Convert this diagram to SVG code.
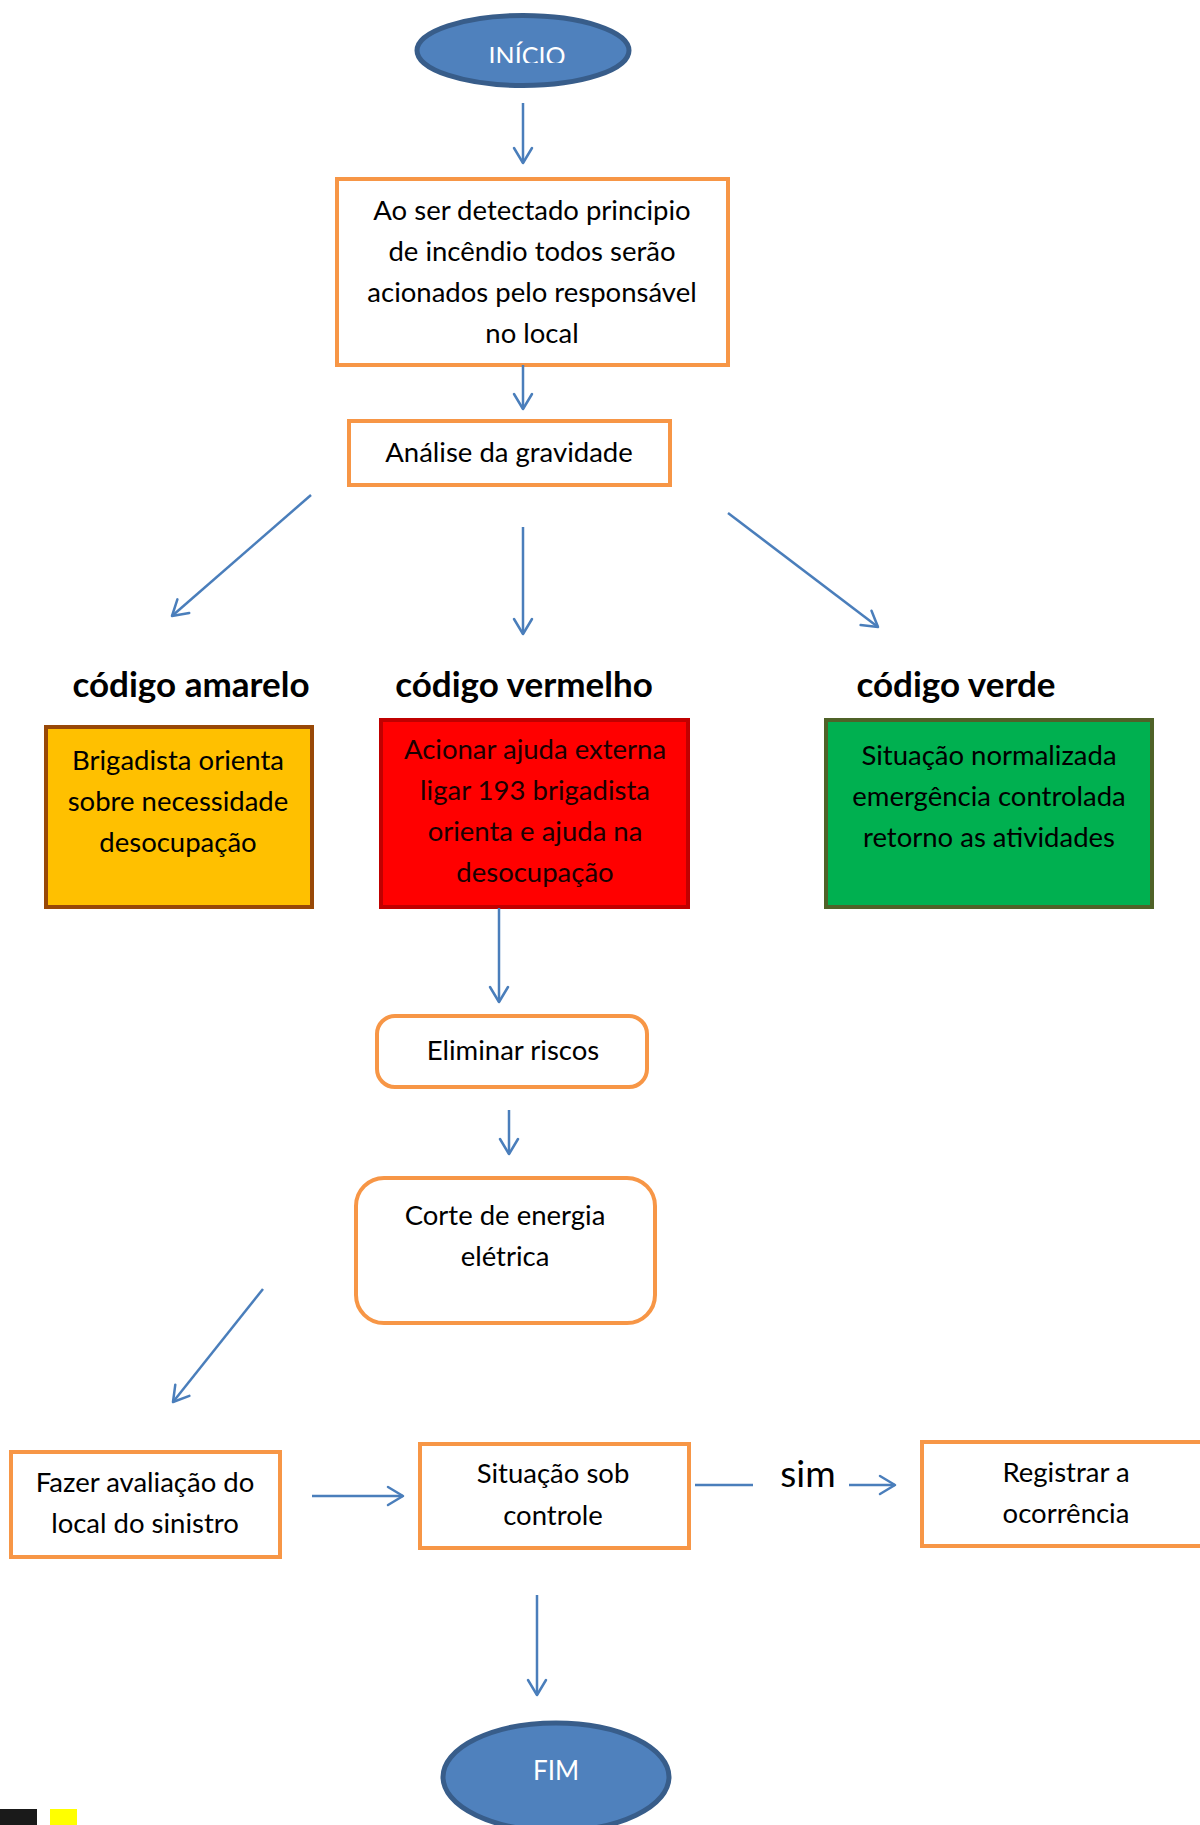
<svg xmlns="http://www.w3.org/2000/svg" width="1200" height="1825" viewBox="0 0 1200 1825">
<defs>
<style>
.t{font-family:Lato,"Open Sans","Liberation Sans",sans-serif;font-size:27.5px;fill:#000;text-anchor:middle}
.h{font-family:Lato,"Open Sans","Liberation Sans",sans-serif;font-size:35px;font-weight:bold;fill:#000;text-anchor:middle}
.w{font-family:Lato,"Open Sans","Liberation Sans",sans-serif;font-size:25px;fill:#fff;text-anchor:middle}
.ob{fill:#fff;stroke:#F79646;stroke-width:4}
.term{fill:#4F81BD;stroke:#385D8A;stroke-width:5}
.c{stroke:#4A7EBB;stroke-width:2.5;fill:none}
.a{marker-end:url(#arr)}
</style>
<marker id="arr" viewBox="0 0 20 22" markerWidth="20" markerHeight="22" refX="17" refY="11" orient="auto" markerUnits="userSpaceOnUse">
<path d="M2,2 L17,11 L2,20" fill="none" stroke="#4A7EBB" stroke-width="2.5" stroke-linecap="round" stroke-linejoin="round"/>
</marker>
<clipPath id="clipInicio"><rect x="400" y="0" width="260" height="63"/></clipPath>
</defs>

<g id="inicio">
<ellipse class="term" cx="523" cy="50.5" rx="106" ry="35"/>
<text class="w" x="527" y="65" clip-path="url(#clipInicio)">INÍCIO</text>
</g>

<g id="detectado">
<rect class="ob" x="337" y="179" width="391" height="186"/>
<text class="t" x="532" y="220">Ao ser detectado principio</text>
<text class="t" x="532" y="261">de incêndio todos serão</text>
<text class="t" x="532" y="302">acionados pelo responsável</text>
<text class="t" x="532" y="343">no local</text>
</g>

<g id="analise">
<rect class="ob" x="349" y="421" width="321" height="64"/>
<text class="t" x="509" y="462">Análise da gravidade</text>
</g>

<g id="amarelo">
<text class="h" x="191" y="697">código amarelo</text>
<rect x="46" y="727" width="266" height="180" fill="#FFC000" stroke="#984807" stroke-width="4"/>
<text class="t" x="178" y="770">Brigadista orienta</text>
<text class="t" x="178" y="811">sobre necessidade</text>
<text class="t" x="178" y="852">desocupação</text>
</g>

<g id="vermelho">
<text class="h" x="524" y="697">código vermelho</text>
<rect x="381" y="720" width="307" height="187" fill="#FF0000" stroke="#C00000" stroke-width="4"/>
<text class="t" x="535" y="759" style="fill:#1a0000">Acionar ajuda externa</text>
<text class="t" x="535" y="800" style="fill:#1a0000">ligar 193 brigadista</text>
<text class="t" x="535" y="841" style="fill:#1a0000">orienta e ajuda na</text>
<text class="t" x="535" y="882" style="fill:#1a0000">desocupação</text>
</g>

<g id="verde">
<text class="h" x="956" y="697">código verde</text>
<rect x="826" y="720" width="326" height="187" fill="#00B050" stroke="#4F6228" stroke-width="4"/>
<text class="t" x="989" y="765">Situação normalizada</text>
<text class="t" x="989" y="806">emergência controlada</text>
<text class="t" x="989" y="847">retorno as atividades</text>
</g>

<g id="eliminar">
<rect class="ob" x="377" y="1016" width="270" height="71" rx="18" ry="18"/>
<text class="t" x="513" y="1060">Eliminar riscos</text>
</g>

<g id="corte">
<rect class="ob" x="356" y="1178" width="299" height="145" rx="28" ry="28"/>
<text class="t" x="505" y="1225">Corte de energia</text>
<text class="t" x="505" y="1266">elétrica</text>
</g>

<g id="fazer">
<rect class="ob" x="11" y="1452" width="269" height="105"/>
<text class="t" x="145" y="1492">Fazer avaliação do</text>
<text class="t" x="145" y="1533">local do sinistro</text>
</g>

<g id="situacao">
<rect class="ob" x="420" y="1444" width="269" height="104"/>
<text class="t" x="553" y="1483">Situação sob</text>
<text class="t" x="553" y="1525">controle</text>
</g>

<g id="sim">
<text class="t" x="808" y="1487" style="font-size:37px">sim</text>
</g>

<g id="registrar">
<rect class="ob" x="922" y="1442" width="290" height="104"/>
<text class="t" x="1066" y="1482">Registrar a</text>
<text class="t" x="1066" y="1523">ocorrência</text>
</g>

<g id="fim">
<ellipse class="term" cx="556" cy="1777" rx="113" ry="54"/>
<text class="w" x="556" y="1780" style="font-size:26px">FIM</text>
</g>

<g id="marcas">
<rect x="0" y="1809" width="37" height="16" fill="#1a1a1a"/>
<rect x="50" y="1809" width="27" height="16" fill="#FFFF00"/>
</g>

<g id="connectors">
<line class="c a" x1="523" y1="103" x2="523" y2="163"/>
<line class="c a" x1="523" y1="365" x2="523" y2="409"/>
<line class="c a" x1="311" y1="495" x2="172" y2="616"/>
<line class="c a" x1="523" y1="527" x2="523" y2="634"/>
<line class="c a" x1="728" y1="513" x2="878" y2="627"/>
<line class="c a" x1="499" y1="908" x2="499" y2="1002"/>
<line class="c a" x1="509" y1="1110" x2="509" y2="1154"/>
<line class="c a" x1="263" y1="1289" x2="173" y2="1402"/>
<line class="c a" x1="312" y1="1496" x2="403" y2="1496"/>
<line class="c" x1="695" y1="1485" x2="753" y2="1485"/>
<line class="c a" x1="849" y1="1485" x2="895" y2="1485"/>
<line class="c a" x1="537" y1="1595" x2="537" y2="1695"/>
</g>
</svg>
